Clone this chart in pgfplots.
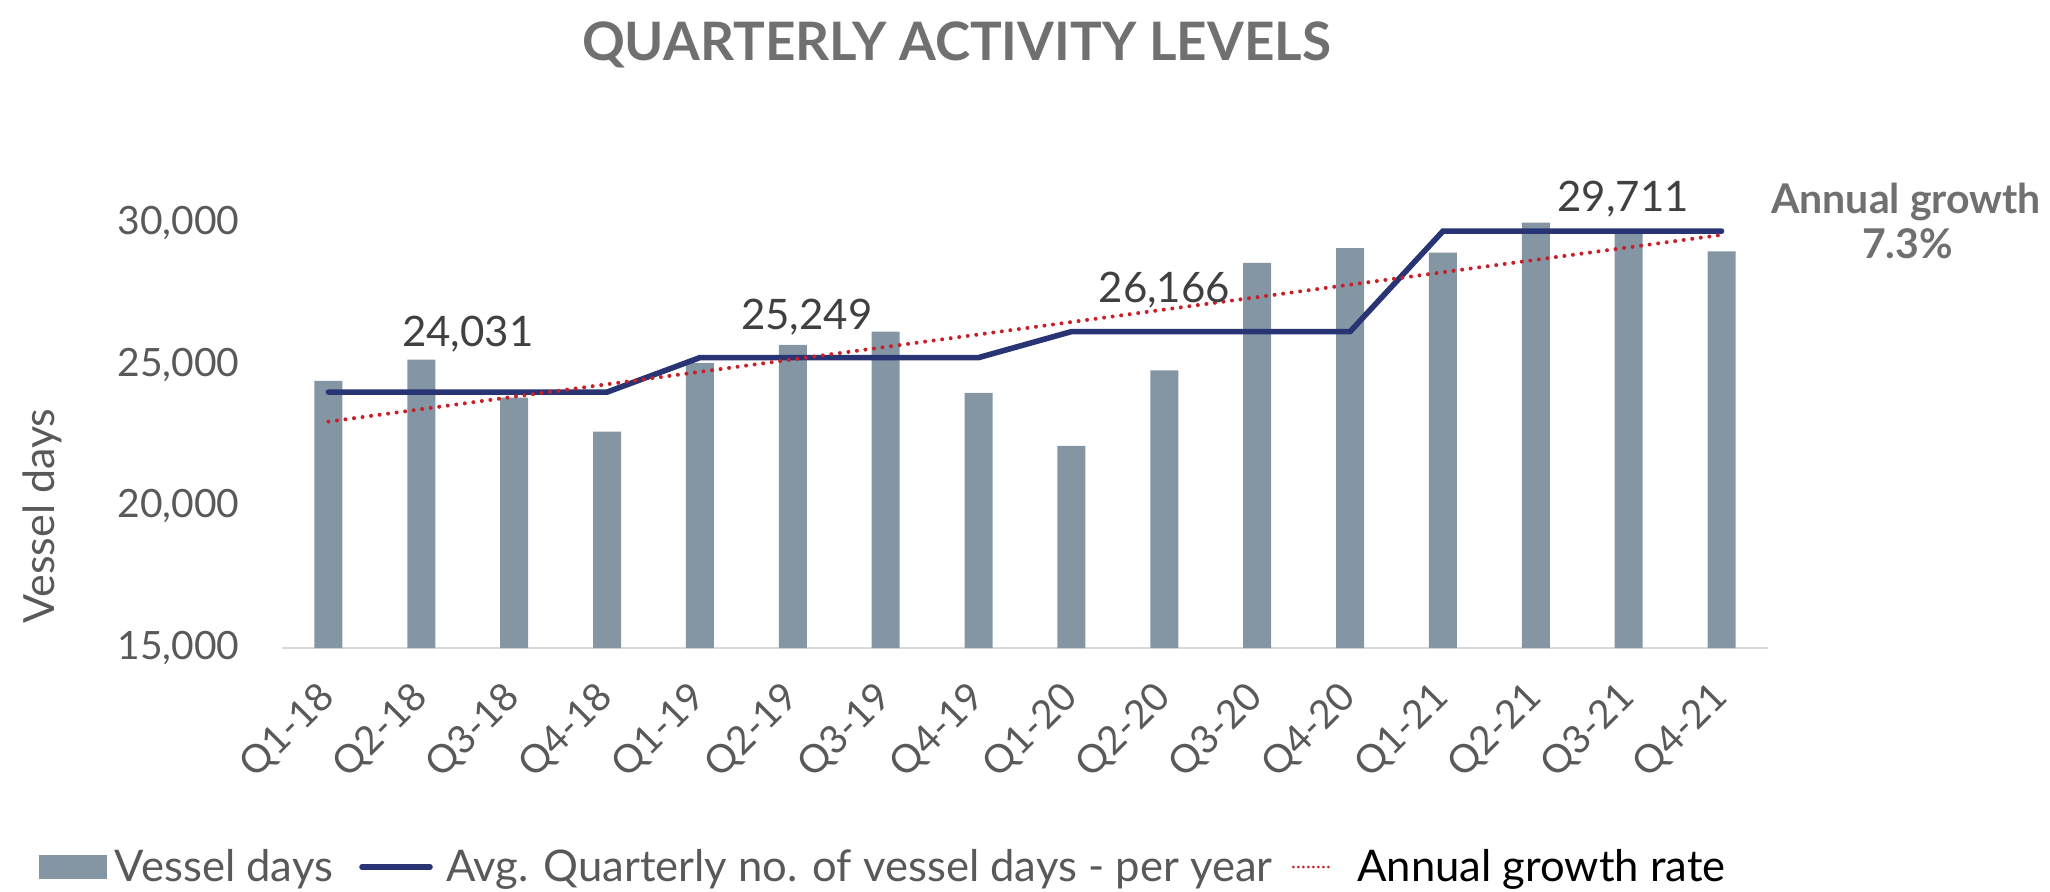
\documentclass[border=0pt]{standalone}
\usepackage{fontspec}
\setmainfont{Lato}
\usepackage{pgfplots}
\pgfplotsset{compat=1.18}
\definecolor{barcol}{RGB}{132,150,164}
\definecolor{avgcol}{RGB}{41,52,117}
\definecolor{trendcol}{RGB}{200,32,40}
\definecolor{txtgray}{RGB}{89,89,89}
\definecolor{titlegray}{RGB}{112,112,112}
\definecolor{lblgray}{RGB}{64,64,64}
\definecolor{axgray}{RGB}{217,217,217}
\begin{document}
\begin{tikzpicture}
\path[use as bounding box] (-141pt,-121.5pt) rectangle (884pt,324pt);
\begin{axis}[
  at={(0pt,0pt)}, anchor=south west,
  scale only axis, width=743pt, height=219.6pt,
  xmin=-0.5, xmax=15.5, ymin=15000, ymax=30500,
  axis x line=bottom, axis y line=left,
  x axis line style={-, draw=axgray, line width=1pt},
  y axis line style={draw=none},
  major tick length=0pt,
  scaled y ticks=false,
  xtick={0,...,15},
  xticklabels={Q1-18,Q2-18,Q3-18,Q4-18,Q1-19,Q2-19,Q3-19,Q4-19,Q1-20,Q2-20,Q3-20,Q4-20,Q1-21,Q2-21,Q3-21,Q4-21},
  xticklabel style={rotate=45, anchor=east, inner sep=0pt, font=\fontsize{19.5}{20}\selectfont, text=txtgray},
  xticklabel shift=21.5pt,
  ytick={15000,20000,25000,30000},
  yticklabels={{15,000},{20,000},{25,000},{30,000}},
  yticklabel style={inner sep=0pt, font=\fontsize{19.5}{20}\selectfont, text=txtgray},
  yticklabel shift=21pt,
  clip mode=individual,
  legend columns=3,
  legend style={at={(axis description cs:0,0)}, anchor=west, xshift=-121.5pt, yshift=-109.5pt,
    draw=none, fill=none, inner sep=0pt, outer sep=0pt, column sep=0pt,
    nodes={inner sep=0pt, text=txtgray}, font=\fontsize{21.8}{24}\selectfont,
    /tikz/every even column/.append style={column sep=6.5pt}},
]
\addplot[ybar, bar width=14pt, fill=barcol, draw=none,
  legend image code/.code={\fill[barcol] (0pt,-6pt) rectangle (34pt,6pt); \path[draw=none,fill=none] (0pt,0pt) -- (38pt,0pt);}]
  coordinates {(0,24425) (1,25178) (2,23833) (3,22635) (4,25060) (5,25695) (6,26166) (7,24000)
               (8,22130) (9,24800) (10,28590) (11,29110) (12,28950) (13,30010) (14,29690) (15,29000)};
\addlegendentry{Vessel days}
\addplot[avgcol, line width=2.8pt, line cap=round,
  legend image code/.code={\path[draw=none,fill=none] (0pt,0pt) -- (50pt,0pt); \draw[avgcol, line width=2.8pt, line cap=round] (8pt,0pt) -- (42pt,0pt);}]
  coordinates {(0,24031) (1,24031) (2,24031) (3,24031) (4,25249) (5,25249) (6,25249) (7,25249)
               (8,26166) (9,26166) (10,26166) (11,26166) (12,29711) (13,29711) (14,29711) (15,29711)};
\addlegendentry{Avg. Quarterly no. of vessel days - per year}
\addplot[trendcol, line width=2pt, line cap=round, dash pattern=on 0pt off 4.3pt,
  legend image code/.code={\draw[trendcol, line width=1.4pt, line cap=round, dash pattern=on 0pt off 2.5pt] (4pt,0pt) -- (22pt,0pt); \path[draw=none,fill=none] (0pt,0pt) -- (36pt,0pt);}]
  coordinates {(0,22990) (15,29580)};
\addlegendentry{\textcolor{black}{Annual growth rate}}
\node[anchor=base, font=\fontsize{21}{24}\selectfont, text=lblgray] at (axis cs:1.5,25635) {24,031};
\node[anchor=base, font=\fontsize{21}{24}\selectfont, text=lblgray] at (axis cs:5.15,26225) {25,249};
\node[anchor=base, font=\fontsize{21}{24}\selectfont, text=lblgray] at (axis cs:9.0,27178) {26,166};
\node[anchor=base, font=\fontsize{21}{24}\selectfont, text=lblgray] at (axis cs:13.94,30390) {29,711};
\end{axis}
\node[rotate=90, font=\fontsize{21.5}{24}\selectfont, text=txtgray] at (-120pt,66pt) {Vessel days};
\node[anchor=base, font=\bfseries\fontsize{26.5}{30}\selectfont, text=titlegray] at (337.25pt,294pt) {QUARTERLY ACTIVITY LEVELS};
\node[anchor=base, font=\bfseries\fontsize{20.5}{22}\selectfont, text=titlegray] at (812pt,217.5pt) {Annual growth};
\node[anchor=base, font=\bfseries\fontsize{20.5}{22}\selectfont, text=titlegray] at (812.75pt,195pt) {7.3\%};
\end{tikzpicture}
\end{document}
